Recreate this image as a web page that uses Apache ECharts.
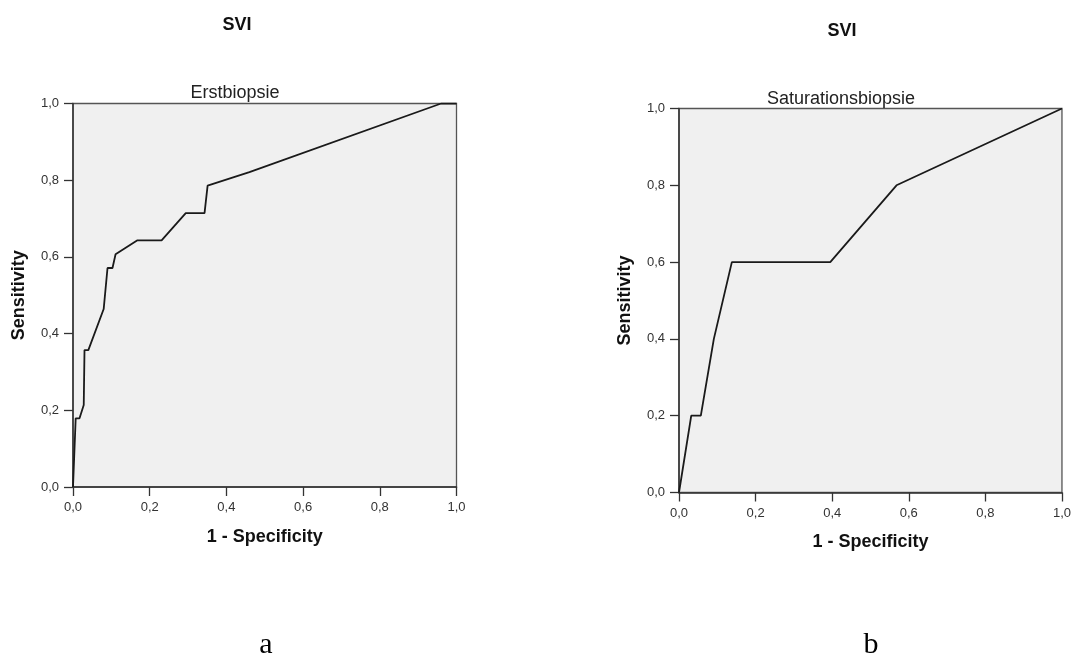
<!DOCTYPE html>
<html lang="de">
<head>
  <meta charset="UTF-8" />
  <title>SVI ROC</title>
  <style>
    html, body { margin: 0; padding: 0; background: #fff; }
    #chart { width: 1074px; height: 662px; }
  </style>
</head>
<body>
  <div id="chart"></div>
  <script src="https://cdn.jsdelivr.net/npm/echarts@6/dist/echarts.min.js"></script>
  <script>
    // Kurve a: Erstbiopsie (1 - Spezifität, Sensitivität)
    const erstX = [0, 0.007, 0.017, 0.028, 0.030, 0.040, 0.080, 0.090, 0.103, 0.111, 0.167, 0.231, 0.294, 0.343, 0.351, 0.460, 0.960, 1.0];
    const erstY = [0, 0.179, 0.179, 0.214, 0.357, 0.357, 0.464, 0.571, 0.571, 0.607, 0.643, 0.643, 0.714, 0.714, 0.786, 0.821, 1.0, 1.0];

    // Kurve b: Saturationsbiopsie
    const satX = [0, 0.032, 0.057, 0.091, 0.138, 0.395, 0.568, 1.0];
    const satY = [0, 0.2, 0.2, 0.4, 0.6, 0.6, 0.8, 1.0];

    const tickLabels = ['0,0', '0,2', '0,4', '0,6', '0,8', '1,0'];

    const font = "'Liberation Sans', Arial, sans-serif";
    const pair = (xs, ys) => xs.map((x, i) => [x, ys[i]]);
    const fmt = v => tickLabels[Math.round(v * 5)];

    function axis(name, gap, rotate) {
      return {
        type: 'value', min: 0, max: 1, interval: 0.2,
        name: name, nameLocation: 'middle', nameGap: gap, nameRotate: rotate,
        nameTextStyle: { fontFamily: font, fontSize: 18, fontWeight: 'bold', color: '#111' },
        axisLine: { show: true, lineStyle: { color: '#333', width: 1.5 } },
        axisTick: { show: true, length: 9, lineStyle: { color: '#333', width: 1.3 } },
        axisLabel: { formatter: fmt, fontFamily: font, fontSize: 13, color: '#333', margin: 14 },
        splitLine: { show: false }
      };
    }

    const chart = echarts.init(document.getElementById('chart'));
    chart.setOption({
      animation: false,
      title: [
        { text: 'SVI', left: 232, top: 11, textAlign: 'center', textStyle: { fontFamily: font, fontSize: 18, fontWeight: 'bold', color: '#111' } },
        { text: 'Erstbiopsie', left: 230, top: 79, textAlign: 'center', textStyle: { fontFamily: font, fontSize: 18, fontWeight: 'normal', color: '#222' } },
        { text: 'a', left: 261, top: 625, textAlign: 'center', textStyle: { fontFamily: "'Liberation Serif', 'Times New Roman', serif", fontSize: 30, fontWeight: 'normal', color: '#000' } },
        { text: 'SVI', left: 837, top: 17, textAlign: 'center', textStyle: { fontFamily: font, fontSize: 18, fontWeight: 'bold', color: '#111' } },
        { text: 'Saturationsbiopsie', left: 836, top: 85, textAlign: 'center', textStyle: { fontFamily: font, fontSize: 18, fontWeight: 'normal', color: '#222' } },
        { text: 'b', left: 866, top: 625, textAlign: 'center', textStyle: { fontFamily: "'Liberation Serif', 'Times New Roman', serif", fontSize: 30, fontWeight: 'normal', color: '#000' } }
      ],
      grid: [
        { left: 73, top: 103.5, width: 383.5, height: 383.5, show: true, backgroundColor: '#f0f0f0', borderColor: '#555', borderWidth: 1.3 },
        { left: 679, top: 108.5, width: 383.5, height: 384, show: true, backgroundColor: '#f0f0f0', borderColor: '#555', borderWidth: 1.3 }
      ],
      xAxis: [
        Object.assign(axis('1 - Specificity', 41, 0), { gridIndex: 0 }),
        Object.assign(axis('1 - Specificity', 41, 0), { gridIndex: 1 })
      ],
      yAxis: [
        Object.assign(axis('Sensitivity', 45, 90), { gridIndex: 0 }),
        Object.assign(axis('Sensitivity', 45, 90), { gridIndex: 1 })
      ],
      series: [
        { type: 'line', xAxisIndex: 0, yAxisIndex: 0, data: pair(erstX, erstY), showSymbol: false, lineStyle: { color: '#1a1a1a', width: 1.8 } },
        { type: 'line', xAxisIndex: 1, yAxisIndex: 1, data: pair(satX, satY), showSymbol: false, lineStyle: { color: '#1a1a1a', width: 1.8 } }
      ]
    });
  </script>
</body>
</html>
